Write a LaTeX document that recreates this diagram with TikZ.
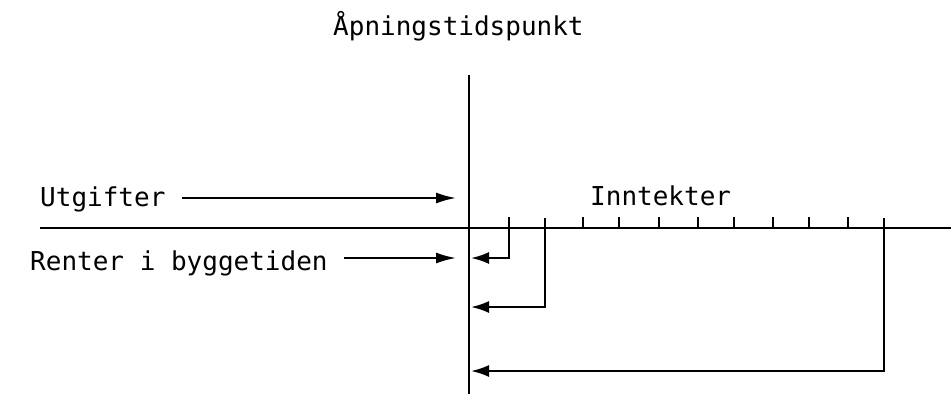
\documentclass[tikz,border=0pt]{standalone}
\usepackage{fontspec}
\setmonofont{DejaVu Sans Mono}
\usetikzlibrary{arrows.meta}
\tikzset{
  lbl/.style={font=\ttfamily\fontsize{26}{31}\selectfont, inner sep=0pt, anchor=base west},
  axis/.style={line width=2.8pt},
  tick/.style={line width=2.4pt},
  arr/.style={-{Latex[length=20pt, width=11pt]}, line width=2pt},
  brk/.style={-{Latex[length=18pt, width=12pt]}, line width=2.2pt}
}
\begin{document}
\begin{tikzpicture}[x=1pt, y=-1pt]
\useasboundingbox (0,0) rectangle (951,394);
% labels
\node[lbl] (open) at (333,35) {Åpningstidspunkt};
\node[lbl] (utg) at (40,206) {Utgifter};
\node[lbl] (rent) at (30,270) {Renter i byggetiden};
\node[lbl] (inn) at (590,205) {Inntekter};
% axis and opening time
\coordinate (axl) at (40,228);
\coordinate (axr) at (951,228);
\coordinate (vtop) at (469,75);
\coordinate (vbot) at (469,394);
\draw[axis] (axl) -- (axr);
\draw[axis] (vtop) -- (vbot);
% ticks
\foreach \x in {509,583,619,659,698,734,773,809,848}
  \draw[tick] (\x,217) -- (\x,228);
% label arrows
\coordinate (utgend) at (456,198);
\coordinate (rentend) at (456,258);
\draw[arr] (utg.east |- utgend) ++(16,0) coordinate (utgstart) -- (utgend);
\draw[arr] (rent.east |- rentend) ++(16,0) coordinate (rentstart) -- (rentend);
% interest brackets
\coordinate (b1) at (509,228);
\coordinate (b2) at (545,218);
\coordinate (b3) at (884,218);
\draw[brk] (b1) |- (471,258);
\draw[brk] (b2) |- (471,307);
\draw[brk] (b3) |- (471,371);
\end{tikzpicture}
\end{document}
